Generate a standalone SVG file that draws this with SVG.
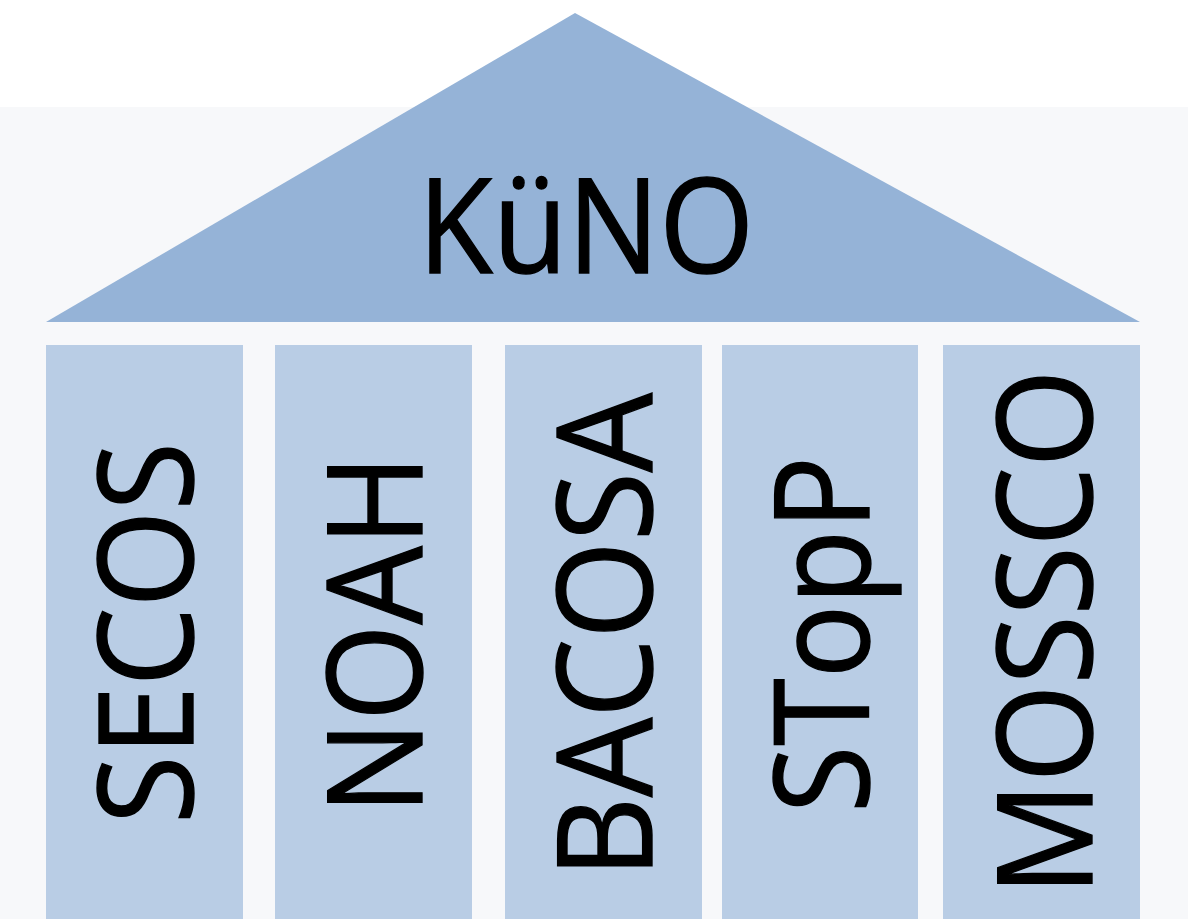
<svg xmlns="http://www.w3.org/2000/svg" width="1188" height="919" viewBox="0 0 1188 919">
<style>
.lbl{font-family:"Open Sans","Noto Sans","Liberation Sans",sans-serif;font-size:132px;fill:#000;stroke:#000;stroke-width:1.4;text-anchor:middle}
.pillar{fill:#b9cde5}
</style>
<rect x="0" y="0" width="1188" height="919" fill="#ffffff"/>
<rect x="0" y="107" width="1188" height="812" fill="#f7f8fa"/>
<g id="roof">
<polygon points="46,322 575,13 1140,322" fill="#95b3d7"/>
<text class="lbl" x="586" y="273" textLength="336" lengthAdjust="spacingAndGlyphs">KüNO</text>
</g>
<g id="secos">
<rect class="pillar" x="46" y="345" width="197" height="574"/>
<text class="lbl" transform="translate(193,633) rotate(-90)" textLength="382" lengthAdjust="spacingAndGlyphs">SECOS</text>
</g>
<g id="noah">
<rect class="pillar" x="275" y="345" width="197" height="574"/>
<text class="lbl" transform="translate(422,634.5) rotate(-90)" textLength="360" lengthAdjust="spacingAndGlyphs">NOAH</text>
</g>
<g id="bacosa">
<rect class="pillar" x="505" y="345" width="197" height="574"/>
<text class="lbl" transform="translate(652,635.5) rotate(-90)" textLength="485" lengthAdjust="spacingAndGlyphs">BACOSA</text>
</g>
<g id="stopp">
<rect class="pillar" x="722" y="345" width="196" height="574"/>
<text class="lbl" transform="translate(869,634.5) rotate(-90)" textLength="357" lengthAdjust="spacingAndGlyphs">STopP</text>
</g>
<g id="mossco">
<rect class="pillar" x="943" y="345" width="197" height="574"/>
<text class="lbl" transform="translate(1092,632.5) rotate(-90)" textLength="526" lengthAdjust="spacingAndGlyphs">MOSSCO</text>
</g>
<g id="connectors"></g>
</svg>
